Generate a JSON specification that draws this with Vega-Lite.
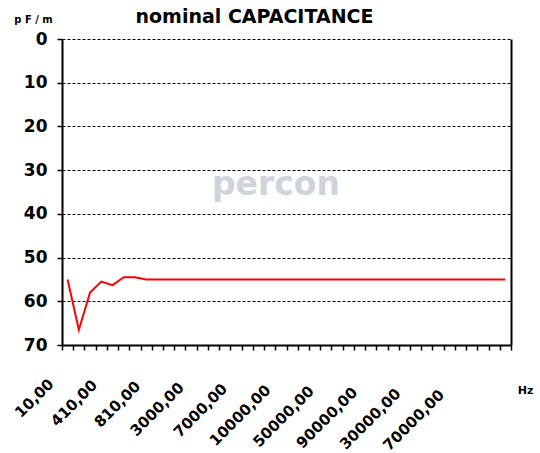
{
  "$schema": "https://vega.github.io/schema/vega-lite/v6.json",
  "width": 449,
  "height": 306,
  "autosize": {"type": "none"},
  "padding": {"left": 62, "top": 39, "right": 29, "bottom": 108},
  "background": "white",
  "config": {
    "view": {"stroke": null},
    "font": "DejaVu Sans",
    "axis": {"labelFont": "DejaVu Sans", "labelFontWeight": "bold", "labelColor": "black", "titleFont": "DejaVu Sans", "titleFontWeight": "bold", "titleColor": "black"}
  },
  "title": {
    "text": "nominal CAPACITANCE",
    "font": "DejaVu Sans",
    "fontSize": 19,
    "fontWeight": "bold",
    "color": "black",
    "anchor": "middle",
    "frame": "group",
    "dx": -32,
    "baseline": "alphabetic",
    "offset": 0,
    "dy": 28
  },
  "datasets": {
    "cap": [
      {"i": 0, "hz": "10,00", "pf": 55},
      {"i": 1, "hz": "110,00", "pf": 66.5},
      {"i": 2, "hz": "210,00", "pf": 58},
      {"i": 3, "hz": "310,00", "pf": 55.5},
      {"i": 4, "hz": "410,00", "pf": 56.3},
      {"i": 5, "hz": "510,00", "pf": 54.5},
      {"i": 6, "hz": "610,00", "pf": 54.5},
      {"i": 7, "hz": "710,00", "pf": 55},
      {"i": 8, "hz": "810,00", "pf": 55},
      {"i": 9, "hz": "910,00", "pf": 55},
      {"i": 10, "hz": "1000,00", "pf": 55},
      {"i": 11, "hz": "2000,00", "pf": 55},
      {"i": 12, "hz": "3000,00", "pf": 55},
      {"i": 13, "hz": "4000,00", "pf": 55},
      {"i": 14, "hz": "5000,00", "pf": 55},
      {"i": 15, "hz": "6000,00", "pf": 55},
      {"i": 16, "hz": "7000,00", "pf": 55},
      {"i": 17, "hz": "8000,00", "pf": 55},
      {"i": 18, "hz": "9000,00", "pf": 55},
      {"i": 19, "hz": "9500,00", "pf": 55},
      {"i": 20, "hz": "10000,00", "pf": 55},
      {"i": 21, "hz": "20000,00", "pf": 55},
      {"i": 22, "hz": "30000,00", "pf": 55},
      {"i": 23, "hz": "40000,00", "pf": 55},
      {"i": 24, "hz": "50000,00", "pf": 55},
      {"i": 25, "hz": "60000,00", "pf": 55},
      {"i": 26, "hz": "70000,00", "pf": 55},
      {"i": 27, "hz": "80000,00", "pf": 55},
      {"i": 28, "hz": "90000,00", "pf": 55},
      {"i": 29, "hz": "100000,00", "pf": 55},
      {"i": 30, "hz": "150000,00", "pf": 55},
      {"i": 31, "hz": "200000,00", "pf": 55},
      {"i": 32, "hz": "30000,00", "pf": 55},
      {"i": 33, "hz": "400000,00", "pf": 55},
      {"i": 34, "hz": "500000,00", "pf": 55},
      {"i": 35, "hz": "600000,00", "pf": 55},
      {"i": 36, "hz": "70000,00", "pf": 55},
      {"i": 37, "hz": "800000,00", "pf": 55},
      {"i": 38, "hz": "900000,00", "pf": 55},
      {"i": 39, "hz": "1000000,00", "pf": 55}
    ],
    "mark": [
      {"i": 19, "pf": 33.4, "txt": "percon"}
    ]
  },
  "layer": [
    {
      "data": {"name": "cap"},
      "mark": {"type": "line", "color": "#ff0000", "strokeWidth": 2, "interpolate": "linear"},
      "encoding": {
        "x": {
          "field": "i",
          "type": "ordinal",
          "scale": {"type": "band", "paddingInner": 0, "paddingOuter": 0},
          "axis": {
            "title": "Hz",
            "titleFontSize": 11,
            "titleAngle": 0,
            "titleAlign": "center",
            "titleBaseline": "alphabetic",
            "titleX": 463,
            "titleY": 48,
            "tickBand": "extent",
            "domainColor": "black",
            "domainWidth": 2,
            "tickColor": "black",
            "tickWidth": 1.5,
            "tickSize": 5,
            "labelAngle": -45,
            "labelAlign": "right",
            "labelBaseline": "middle",
            "labelFontSize": 15,
            "labelPadding": {"condition": {"test": "datum.value < 0", "value": 31}, "expr": "31 + datum.value * 0.3"},
            "labelOffset": {"condition": {"test": "datum.value < 0", "value": -17}, "expr": "-17 - datum.value * 0.38"},
            "labelOverlap": false,
            "labelExpr": "datum.value % 4 == 0 && datum.value <= 36 ? ['10,00','410,00','810,00','3000,00','7000,00','10000,00','50000,00','90000,00','30000,00','70000,00'][datum.value / 4] : ''",
            "grid": false
          }
        },
        "y": {
          "field": "pf",
          "type": "quantitative",
          "scale": {"domain": [0, 70], "reverse": true, "nice": false, "zero": false},
          "axis": {
            "orient": "left",
            "title": "p F / m",
            "titleFontSize": 10,
            "titleAngle": 0,
            "titleAlign": "center",
            "titleBaseline": "alphabetic",
            "titleX": -29,
            "titleY": -17,
            "values": [0, 10, 20, 30, 40, 50, 60, 70],
            "labelFontSize": 17,
            "labelPadding": 10,
            "domainColor": "black",
            "domainWidth": 2,
            "tickColor": "black",
            "tickWidth": 1.5,
            "tickSize": 5,
            "grid": true,
            "gridColor": "black",
            "gridDash": [3, 2],
            "gridWidth": 1
          }
        }
      }
    },
    {
      "data": {"name": "mark"},
      "mark": {"type": "text", "font": "DejaVu Sans", "fontWeight": "bold", "fontSize": 33, "color": "#cfd3da", "baseline": "middle", "align": "center", "dx": -5},
      "encoding": {
        "x": {"field": "i", "type": "ordinal"},
        "y": {"field": "pf", "type": "quantitative", "axis": null},
        "text": {"field": "txt"}
      }
    },
    {
      "data": {"name": "cap"},
      "mark": {"type": "rule", "opacity": 0},
      "encoding": {
        "y": {
          "field": "pf",
          "type": "quantitative",
          "axis": {"orient": "right", "labels": false, "ticks": false, "grid": false, "title": null, "domainColor": "black", "domainWidth": 2}
        }
      }
    }
  ],
  "resolve": {"axis": {"y": "independent"}}
}
